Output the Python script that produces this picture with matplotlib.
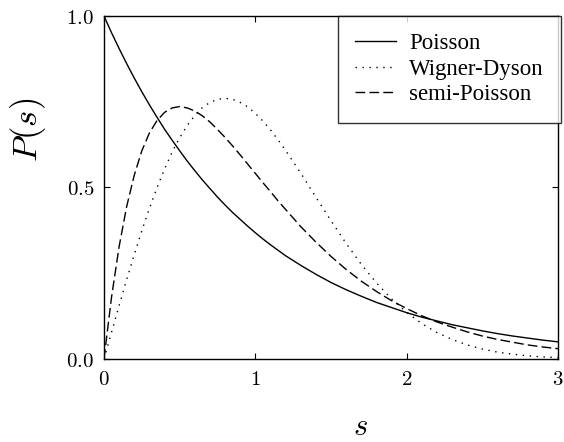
import matplotlib
matplotlib.use("Agg")
import matplotlib.pyplot as plt

# valeurs (pas de 0.05 jusqu'a 1.15, puis 0.1)
s = [0.0, 0.05, 0.1, 0.15, 0.2, 0.25, 0.3, 0.35, 0.4, 0.45, 0.5, 0.55,
     0.6, 0.65, 0.7, 0.75, 0.8, 0.85, 0.9, 0.95, 1.0, 1.05, 1.1, 1.15,
     1.2, 1.3, 1.4, 1.5, 1.6, 1.7, 1.8, 1.9, 2.0,
     2.1, 2.2, 2.3, 2.4, 2.5, 2.6, 2.7, 2.8, 2.9, 3.0]
poisson = [1.000, 0.951, 0.905, 0.861, 0.819, 0.779, 0.741, 0.705, 0.670, 0.638, 0.607, 0.577,
           0.549, 0.522, 0.497, 0.472, 0.449, 0.427, 0.407, 0.387, 0.368, 0.350, 0.333, 0.317,
           0.301, 0.273, 0.247, 0.223, 0.202, 0.183, 0.165, 0.150, 0.135,
           0.122, 0.111, 0.100, 0.091, 0.082, 0.074, 0.067, 0.061, 0.055, 0.050]
wigner = [0.000, 0.078, 0.156, 0.232, 0.304, 0.374, 0.439, 0.499, 0.554, 0.603, 0.645, 0.681,
          0.710, 0.733, 0.748, 0.757, 0.760, 0.757, 0.748, 0.735, 0.716, 0.694, 0.668, 0.639,
          0.608, 0.542, 0.472, 0.403, 0.337, 0.276, 0.222, 0.175, 0.136,
          0.103, 0.077, 0.057, 0.041, 0.029, 0.020, 0.014, 0.009, 0.006, 0.004]
semi = [0.000, 0.181, 0.328, 0.445, 0.536, 0.607, 0.659, 0.695, 0.719, 0.732, 0.736, 0.732,
        0.723, 0.709, 0.691, 0.669, 0.646, 0.621, 0.595, 0.568, 0.541, 0.514, 0.488, 0.461,
        0.436, 0.386, 0.341, 0.299, 0.261, 0.227, 0.197, 0.170, 0.147,
        0.126, 0.108, 0.093, 0.079, 0.067, 0.057, 0.049, 0.041, 0.035, 0.030]
labels = ['Poisson', 'Wigner-Dyson', 'semi-Poisson']

plt.rcParams['mathtext.fontset'] = 'cm'

fig = plt.figure(figsize=(5.64, 4.42), dpi=100)
ax = fig.add_axes([0.1844, 0.1878, 0.805, 0.776])

ax.plot(s, poisson, color='black', linestyle='-', linewidth=1.0, label=labels[0])
ax.plot(s, wigner, color='black', linestyle=(0, (1, 4)), linewidth=1.0, label=labels[1])
ax.plot(s, semi, color='black', linestyle=(0, (7, 3)), linewidth=1.0, label=labels[2])

ax.set_xlim(0, 3)
ax.set_ylim(0, 1)
ax.set_xticks([0, 1, 2, 3])
ax.set_xticklabels(['$0$', '$1$', '$2$', '$3$'])
ax.set_yticks([0, 0.5, 1.0])
ax.set_yticklabels(['$0.0$', '$0.5$', '$1.0$'])
ax.tick_params(direction='in', length=4, width=0.8, labelsize=15, pad=7,
               top=True, right=True)

for sp in ax.spines.values():
    sp.set_linewidth(1.0)

ax.set_ylabel('$P(s)$', fontsize=25)
ax.yaxis.set_label_coords(-0.123, 0.668)
ax.set_xlabel('$s$', fontsize=22)
ax.xaxis.set_label_coords(0.564, -0.155)

leg = ax.legend(loc='upper right', bbox_to_anchor=(1.006, 1.0), borderaxespad=0,
                fancybox=False, edgecolor='black', handlelength=1.8, handletextpad=0.55,
                prop={'family': 'Liberation Serif', 'size': 16.5},
                labelspacing=0.2, borderpad=0.75)
leg.get_frame().set_linewidth(1.0)

fig.savefig('out.png', dpi=100)
